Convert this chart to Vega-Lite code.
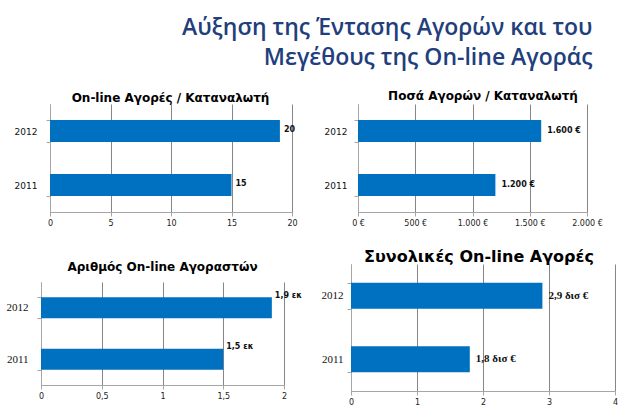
{
  "$schema": "https://vega.github.io/schema/vega-lite/v6.json",
  "background": "white",
  "padding": {"left": 3, "top": 17, "right": 0, "bottom": 0},
  "title": {
    "text": ["Αύξηση της Έντασης Αγορών και του", "Μεγέθους της On-line Αγοράς"],
    "anchor": "end",
    "font": "Open Sans",
    "fontSize": 23,
    "fontWeight": 600,
    "color": "#223E7C",
    "lineHeight": 30,
    "offset": 20,
    "dx": -25
  },
  "spacing": 16,
  "hconcat": [
    {
      "spacing": 70,
      "bounds": "flush",
      "vconcat": [
        {
          "width": 251,
          "height": 108,
          "title": {"text": "On-line Αγορές / Καταναλωτή", "fontSize": 12, "font": "DejaVu Sans", "fontWeight": "bold", "color": "black", "baseline": "bottom", "offset": -17, "anchor": "middle", "dx": 4},
          "data": {"values": [
            {"year": "2011", "value": 15, "label": "15"},
            {"year": "2012", "value": 19, "label": "20"}
          ]},
          "encoding": {
            "y": {"field": "year", "type": "nominal", "sort": "descending", "scale": {"paddingInner": 0.59, "paddingOuter": 0.295},
                  "axis": {"title": null, "labelFontSize": 9, "labelPadding": 9, "offset": -9}},
            "x": {"field": "value", "type": "quantitative", "scale": {"domain": [0, 20], "nice": false, "range": [9, 251]},
                  "axis": {"title": null, "values": [0, 5, 10, 15, 20]}}
          },
          "layer": [
            {"mark": {"type": "bar", "color": "#0070C0"}},
            {"mark": {"type": "text", "align": "left", "baseline": "middle", "dx": 4, "dy": -1, "font": "DejaVu Sans", "fontWeight": "bold", "fontSize": 8, "color": "#111"},
             "encoding": {"text": {"field": "label"}}}
          ]
        },
        {
          "width": 243,
          "height": 103,
          "title": {"text": "Αριθμός On-line Αγοραστών", "fontSize": 12, "font": "DejaVu Sans", "fontWeight": "bold", "color": "black", "baseline": "bottom", "offset": -10, "anchor": "middle"},
          "data": {"values": [
            {"year": "2011", "value": 1.5, "label": "1,5 εκ"},
            {"year": "2012", "value": 1.9, "label": "1,9 εκ"}
          ]},
          "encoding": {
            "y": {"field": "year", "type": "nominal", "sort": "descending", "scale": {"paddingInner": 0.59, "paddingOuter": 0.295},
                  "axis": {"title": null, "labelFont": "Liberation Serif", "labelFontSize": 11, "labelPadding": 9, "minExtent": 38}},
            "x": {"field": "value", "type": "quantitative", "scale": {"domain": [0, 2], "nice": false},
                  "axis": {"title": null, "values": [0, 0.5, 1, 1.5, 2], "format": "~f"}}
          },
          "layer": [
            {"mark": {"type": "bar", "color": "#0070C0"}},
            {"mark": {"type": "text", "align": "left", "baseline": "middle", "dx": 3, "dy": -12, "font": "DejaVu Sans", "fontWeight": "bold", "fontSize": 8, "color": "#111"},
             "encoding": {"text": {"field": "label"}}}
          ]
        }
      ]
    },
    {
      "spacing": 52,
      "bounds": "flush",
      "vconcat": [
        {
          "width": 236,
          "height": 108,
          "title": {"text": "Ποσά Αγορών  / Καταναλωτή", "fontSize": 12, "font": "DejaVu Sans", "fontWeight": "bold", "color": "black", "baseline": "bottom", "offset": -15, "anchor": "middle", "dx": 14},
          "data": {"values": [
            {"year": "2011", "value": 1200, "label": "1.200 €"},
            {"year": "2012", "value": 1600, "label": "1.600 €"}
          ]},
          "encoding": {
            "y": {"field": "year", "type": "nominal", "sort": "descending", "scale": {"paddingInner": 0.59, "paddingOuter": 0.295},
                  "axis": {"title": null, "labelFontSize": 9, "labelPadding": 7, "offset": -7}},
            "x": {"field": "value", "type": "quantitative", "scale": {"domain": [0, 2000], "nice": false, "range": [7, 236]},
                  "axis": {"title": null, "values": [0, 500, 1000, 1500, 2000], "format": ",.0f", "labelExpr": "datum.label + ' €'"}}
          },
          "layer": [
            {"mark": {"type": "bar", "color": "#0070C0"}},
            {"mark": {"type": "text", "align": "left", "baseline": "middle", "dx": 6, "dy": 0, "font": "DejaVu Sans", "fontWeight": "bold", "fontSize": 8, "color": "#111"},
             "encoding": {"text": {"field": "label"}}}
          ]
        },
        {
          "width": 264,
          "height": 127,
          "title": {"text": "Συνολικές On-line Αγορές", "fontSize": 16, "font": "DejaVu Sans", "fontWeight": "bold", "color": "black", "baseline": "bottom", "offset": -23, "anchor": "middle", "dx": -4},
          "data": {"values": [
            {"year": "2011", "value": 1.8, "label": "1,8 δισ €"},
            {"year": "2012", "value": 2.9, "label": "2,9 δισ €"}
          ]},
          "encoding": {
            "y": {"field": "year", "type": "nominal", "sort": "descending", "scale": {"paddingInner": 0.59, "paddingOuter": 0.295},
                  "axis": {"title": null, "labelFont": "Liberation Serif", "labelFontSize": 11, "labelPadding": 4, "minExtent": 33}},
            "x": {"field": "value", "type": "quantitative", "scale": {"domain": [0, 4], "nice": false},
                  "axis": {"title": null, "values": [0, 1, 2, 3, 4]}}
          },
          "layer": [
            {"mark": {"type": "bar", "color": "#0070C0"}},
            {"mark": {"type": "text", "align": "left", "baseline": "middle", "dx": 6, "dy": 0, "font": "Liberation Serif", "fontWeight": "bold", "fontSize": 11, "color": "#111"},
             "encoding": {"text": {"field": "label"}}}
          ]
        }
      ]
    }
  ],
  "config": {
    "locale": {"number": {"decimal": ",", "thousands": ".", "grouping": [3], "currency": ["", " €"]}},
    "view": {"stroke": null},
    "axis": {
      "domainColor": "#A6A6A6",
      "tickColor": "#A6A6A6",
      "gridColor": "#868686",
      "tickSize": 4,
      "labelFont": "DejaVu Sans",
      "labelFontSize": 8,
      "labelColor": "#222222"
    },
    "axisX": {"grid": true, "labelPadding": 3, "labelFlush": false},
    "axisY": {"grid": false, "tickBand": "extent", "labelColor": "#111111"}
  }
}
